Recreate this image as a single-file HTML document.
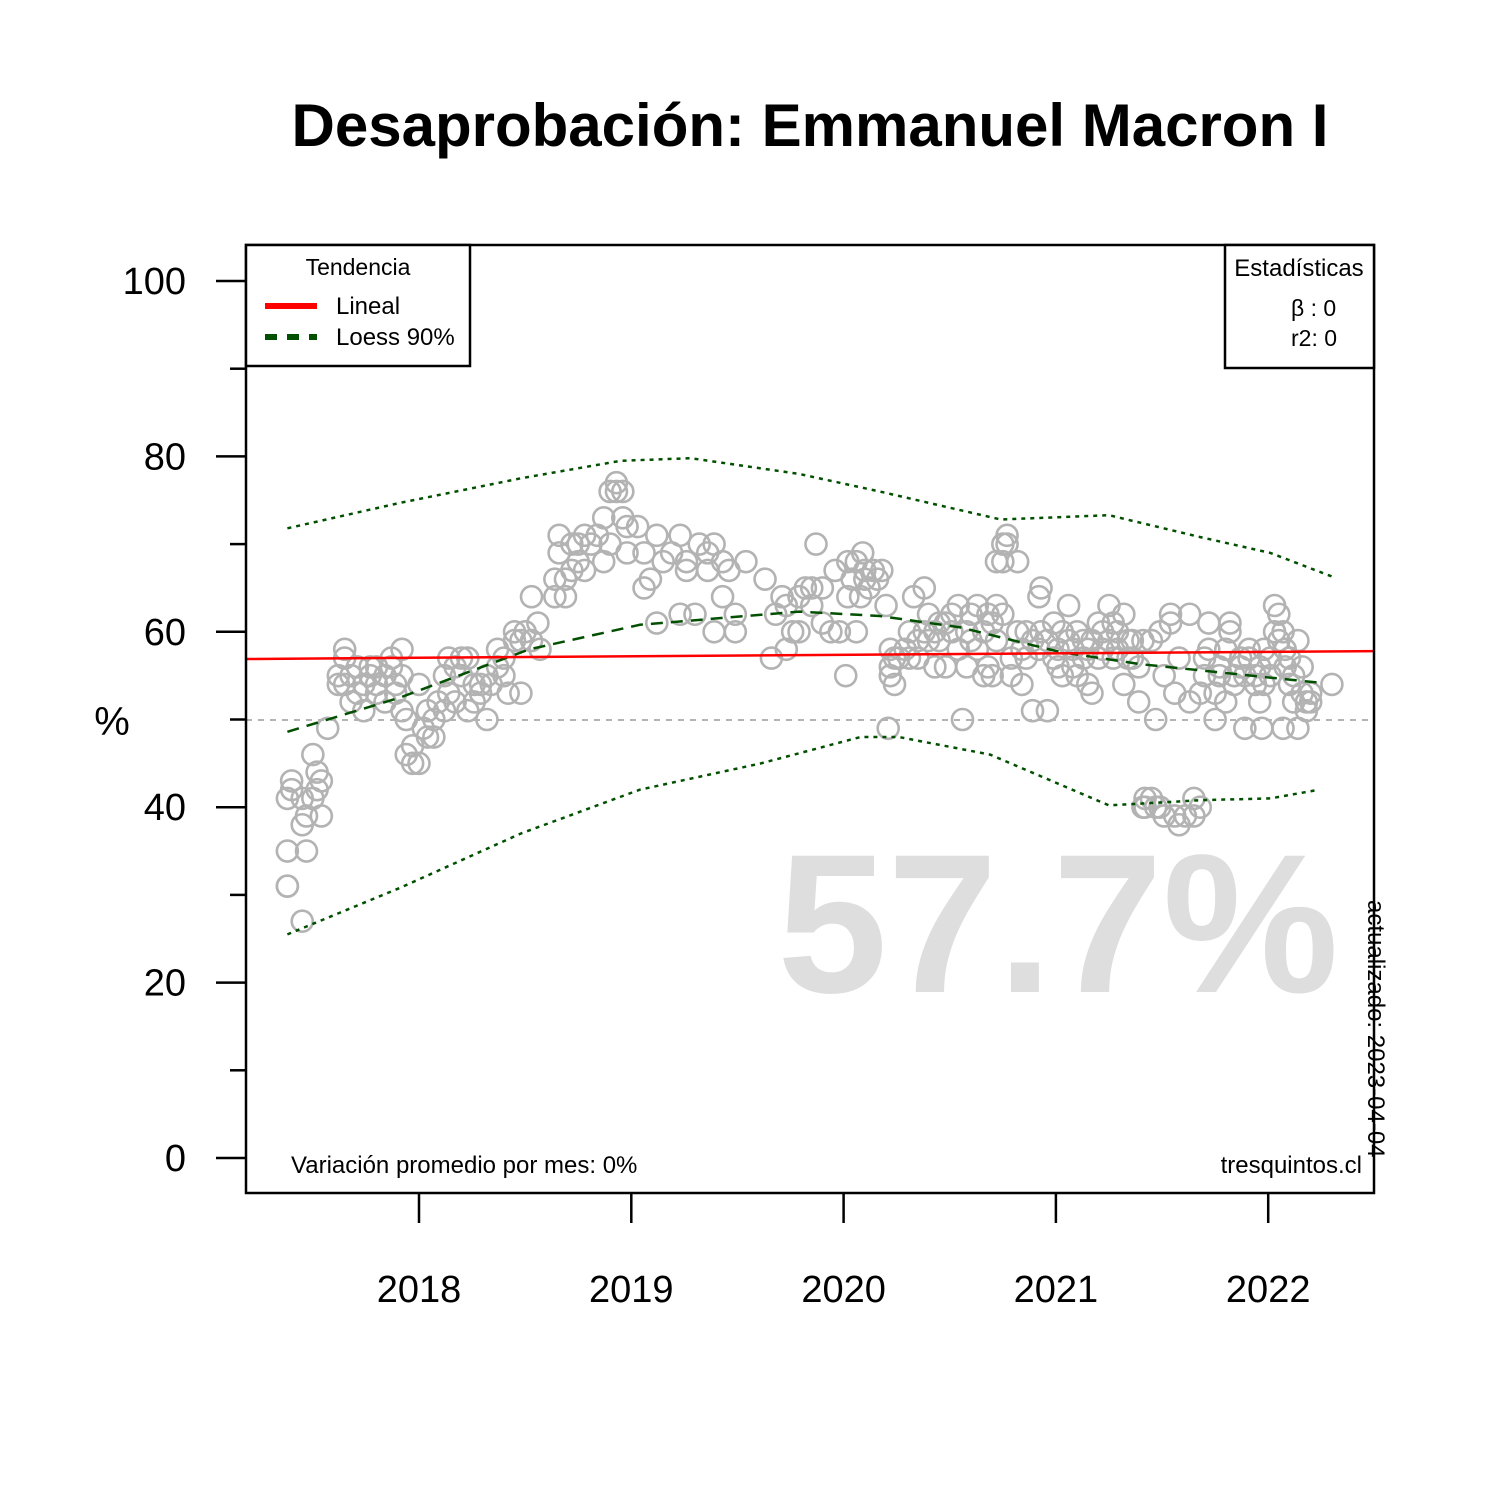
<!DOCTYPE html>
<html><head><meta charset="utf-8"><style>
body{margin:0;background:#fff}
svg text{font-family:"Liberation Sans",Arial,sans-serif}
</style></head><body>
<svg id="chart" width="1500" height="1500" viewBox="0 0 1500 1500" xmlns="http://www.w3.org/2000/svg">
<rect width="1500" height="1500" fill="#fff"/>
<text x="810" y="146" font-size="60" font-weight="bold" text-anchor="middle">Desaprobación: Emmanuel Macron I</text>
<text x="1058" y="992" font-size="198" font-weight="bold" fill="#dedede" text-anchor="middle">57.7%</text>
<line x1="246" y1="720" x2="1374" y2="720" stroke="#b3b3b3" stroke-width="2" stroke-dasharray="6,6"/>
<g id="points"></g>
<g id="lines"></g>
<g id="axes"></g>
<rect x="246" y="245" width="1128" height="948" fill="none" stroke="#000" stroke-width="2.5"/>
<text x="112" y="735" font-size="40" text-anchor="middle">%</text>
<g>
<rect x="246" y="245" width="224" height="121" fill="#fff" stroke="#000" stroke-width="2.5"/>
<text x="358" y="275" font-size="23" text-anchor="middle">Tendencia</text>
<line x1="265" y1="306" x2="317" y2="306" stroke="#ff0000" stroke-width="6"/>
<text x="336" y="314" font-size="24">Lineal</text>
<line x1="265" y1="337" x2="317" y2="337" stroke="#005000" stroke-width="6" stroke-dasharray="12,10"/>
<text x="336" y="345" font-size="24">Loess 90%</text>
</g>
<g>
<rect x="1225" y="245" width="149" height="123" fill="#fff" stroke="#000" stroke-width="2.5"/>
<text x="1299" y="276" font-size="24" text-anchor="middle">Estadísticas</text>
<text x="1291" y="316" font-size="23">β : 0</text>
<text x="1291" y="346" font-size="23">r2: 0</text>
</g>
<text x="291" y="1173" font-size="24">Variación promedio por mes: 0%</text>
<text x="1362" y="1173" font-size="24" text-anchor="end">tresquintos.cl</text>
<text transform="translate(1368,900) rotate(90)" font-size="24">actualizado: 2023-04-04</text>
</svg>
<script>
const yTicks=[0,20,40,60,80,100];
const yMinor=[10,30,50,70,90];
const xTicks=[2018,2019,2020,2021,2022];
const dates=[2017.38,2017.38,2017.38,2017.38,2017.40,2017.40,2017.45,2017.45,2017.45,2017.47,2017.47,2017.50,2017.50,2017.52,2017.52,2017.54,2017.54,2017.57,2017.62,2017.62,2017.65,2017.65,2017.65,2017.68,2017.68,2017.71,2017.71,2017.74,2017.74,2017.77,2017.77,2017.80,2017.80,2017.80,2017.84,2017.84,2017.87,2017.87,2017.89,2017.89,2017.92,2017.92,2017.92,2017.94,2017.94,2017.97,2017.97,2018.00,2018.00,2018.02,2018.04,2018.04,2018.07,2018.07,2018.09,2018.12,2018.12,2018.14,2018.14,2018.17,2018.17,2018.20,2018.20,2018.23,2018.23,2018.26,2018.26,2018.29,2018.29,2018.32,2018.32,2018.34,2018.37,2018.37,2018.40,2018.40,2018.42,2018.45,2018.45,2018.48,2018.48,2018.50,2018.53,2018.53,2018.56,2018.57,2018.64,2018.64,2018.66,2018.66,2018.69,2018.69,2018.72,2018.72,2018.75,2018.75,2018.78,2018.78,2018.81,2018.84,2018.87,2018.87,2018.90,2018.90,2018.93,2018.93,2018.96,2018.96,2018.98,2018.98,2019.03,2019.06,2019.06,2019.09,2019.12,2019.12,2019.15,2019.19,2019.23,2019.23,2019.26,2019.26,2019.30,2019.32,2019.36,2019.36,2019.39,2019.39,2019.43,2019.43,2019.46,2019.49,2019.49,2019.54,2019.63,2019.66,2019.68,2019.71,2019.73,2019.73,2019.76,2019.79,2019.79,2019.82,2019.85,2019.85,2019.87,2019.90,2019.90,2019.94,2019.96,2019.98,2020.01,2020.02,2020.02,2020.04,2020.06,2020.06,2020.08,2020.09,2020.10,2020.10,2020.12,2020.14,2020.16,2020.18,2020.20,2020.21,2020.22,2020.22,2020.22,2020.24,2020.24,2020.26,2020.29,2020.31,2020.31,2020.33,2020.35,2020.35,2020.38,2020.38,2020.40,2020.40,2020.43,2020.43,2020.45,2020.45,2020.48,2020.48,2020.51,2020.51,2020.54,2020.54,2020.56,2020.58,2020.58,2020.60,2020.60,2020.63,2020.63,2020.66,2020.66,2020.68,2020.68,2020.70,2020.70,2020.72,2020.72,2020.72,2020.75,2020.75,2020.75,2020.77,2020.77,2020.79,2020.79,2020.82,2020.82,2020.84,2020.84,2020.86,2020.86,2020.89,2020.89,2020.92,2020.92,2020.93,2020.93,2020.96,2020.96,2020.99,2020.99,2021.01,2021.01,2021.03,2021.03,2021.06,2021.06,2021.08,2021.08,2021.10,2021.10,2021.13,2021.13,2021.15,2021.15,2021.17,2021.17,2021.20,2021.20,2021.22,2021.22,2021.25,2021.25,2021.27,2021.27,2021.29,2021.29,2021.32,2021.32,2021.34,2021.34,2021.36,2021.36,2021.39,2021.39,2021.41,2021.41,2021.42,2021.42,2021.45,2021.45,2021.47,2021.47,2021.49,2021.49,2021.51,2021.51,2021.54,2021.54,2021.56,2021.56,2021.58,2021.58,2021.61,2021.63,2021.63,2021.65,2021.65,2021.68,2021.68,2021.70,2021.70,2021.72,2021.72,2021.75,2021.75,2021.77,2021.77,2021.80,2021.80,2021.82,2021.82,2021.84,2021.84,2021.87,2021.87,2021.89,2021.89,2021.91,2021.91,2021.94,2021.94,2021.96,2021.96,2021.97,2021.98,2021.98,2022.01,2022.01,2022.03,2022.03,2022.05,2022.05,2022.07,2022.07,2022.08,2022.08,2022.10,2022.10,2022.12,2022.12,2022.14,2022.14,2022.16,2022.16,2022.18,2022.18,2022.20,2022.20,2022.30];
const values=[31,31,35,41,43,42,27,38,41,39,35,46,41,44,42,39,43,49,54,55,57,58,54,52,55,53,56,51,54,55,56,53,56,54,52,55,57,56,53,54,58,51,55,46,50,45,47,45,54,49,51,48,50,48,52,51,55,57,53,56,52,57,55,57,51,54,52,53,54,50,55,54,58,56,57,55,53,59,60,53,59,60,64,59,61,58,66,64,69,71,64,66,70,67,68,70,67,71,70,71,73,68,76,70,76,77,76,73,72,69,72,65,69,66,71,61,68,69,71,62,67,68,62,70,67,69,70,60,68,64,67,62,60,68,66,57,62,64,58,63,60,64,60,65,65,63,70,65,61,60,67,60,55,68,64,66,60,68,64,69,67,66,65,67,66,67,63,49,58,55,56,54,57,57,58,60,57,64,59,57,65,60,62,59,56,60,59,61,61,56,62,60,63,58,50,60,56,59,62,63,58,60,55,62,56,61,55,59,63,68,70,68,62,71,70,57,55,68,60,54,58,57,60,51,59,58,64,65,60,59,51,61,57,58,56,60,55,63,59,58,56,60,55,59,57,54,58,53,59,61,57,60,58,63,59,61,57,60,58,62,54,59,57,57,59,52,56,59,40,41,40,41,59,50,40,40,60,39,55,62,61,53,39,38,57,39,52,62,41,39,53,40,57,55,61,58,50,53,56,55,58,52,60,61,55,54,57,56,49,55,57,58,54,55,56,52,49,58,54,57,55,63,60,59,62,60,49,58,56,57,54,55,52,59,49,56,53,52,51,52,53,54];
const linealDates=[2017.19,2022.50];
const linealValues=[56.9,57.8];
const loessDates=[2017.38,2017.91,2018.52,2019.04,2019.79,2020.17,2020.55,2021.02,2021.40,2022.24];
const loessValues=[48.6,52.5,58,60.8,62.3,61.8,60.5,57.7,56.3,54.2];
const upperDates=[2017.38,2017.91,2018.48,2018.95,2019.28,2019.79,2020.17,2020.74,2021.25,2021.68,2022.01,2022.30];
const upperValues=[71.8,74.7,77.5,79.5,79.8,78,76,72.8,73.3,70.8,69,66.3];
const lowerDates=[2017.38,2017.91,2018.48,2019.04,2019.61,2020.08,2020.26,2020.69,2021.25,2021.68,2022.01,2022.24];
const lowerValues=[25.5,30.8,37,42,45,48,48,46,40.2,40.8,41,42];

const NS="http://www.w3.org/2000/svg";
function xs(d){return 419+(d-2018)*212.3;}
function ys(v){return 1158-v*8.77;}
function mk(tag,attrs,parent){const e=document.createElementNS(NS,tag);for(const k in attrs)e.setAttribute(k,attrs[k]);parent.appendChild(e);return e;}
const pts=document.getElementById('points');
for(let i=0;i<dates.length;i++){
  const c=mk('circle',{cx:xs(dates[i]),cy:ys(values[i]),r:10.5,fill:'none',stroke:'#b3b3b3','stroke-width':2.6},pts);
  
  
}
const lines=document.getElementById('lines');
function path(ds,vs){return ds.map((d,i)=>(i?'L':'M')+xs(d).toFixed(1)+','+ys(vs[i]).toFixed(1)).join(' ');}
const up=mk('path',{d:path(upperDates,upperValues),fill:'none',stroke:'#005000','stroke-width':2.5,'stroke-dasharray':'4,5'},lines);


const lo=mk('path',{d:path(lowerDates,lowerValues),fill:'none',stroke:'#005000','stroke-width':2.5,'stroke-dasharray':'4,5'},lines);


const lm=mk('path',{d:path(loessDates,loessValues),fill:'none',stroke:'#005000','stroke-width':2.5,'stroke-dasharray':'12,8'},lines);


const ln=mk('path',{d:path(linealDates,linealValues),fill:'none',stroke:'#ff0000','stroke-width':2.5},lines);


const ax=document.getElementById('axes');
yTicks.forEach(v=>{
  const t=mk('line',{x1:216,x2:246,y1:ys(v),y2:ys(v),stroke:'#000','stroke-width':2.5},ax);
  
  
  const l=mk('text',{x:186,y:ys(v)+13,'font-size':38,'text-anchor':'end'},ax);
  l.textContent=v;
  
  
});
yMinor.forEach(v=>{
  const t=mk('line',{x1:230,x2:246,y1:ys(v),y2:ys(v),stroke:'#000','stroke-width':2.5},ax);
  
  
});
xTicks.forEach(v=>{
  const t=mk('line',{x1:xs(v),x2:xs(v),y1:1193,y2:1223,stroke:'#000','stroke-width':2.5},ax);
  
  
  const l=mk('text',{x:xs(v),y:1302,'font-size':38,'text-anchor':'middle'},ax);
  l.textContent=v;
  
  
});
</script>
</body></html>
